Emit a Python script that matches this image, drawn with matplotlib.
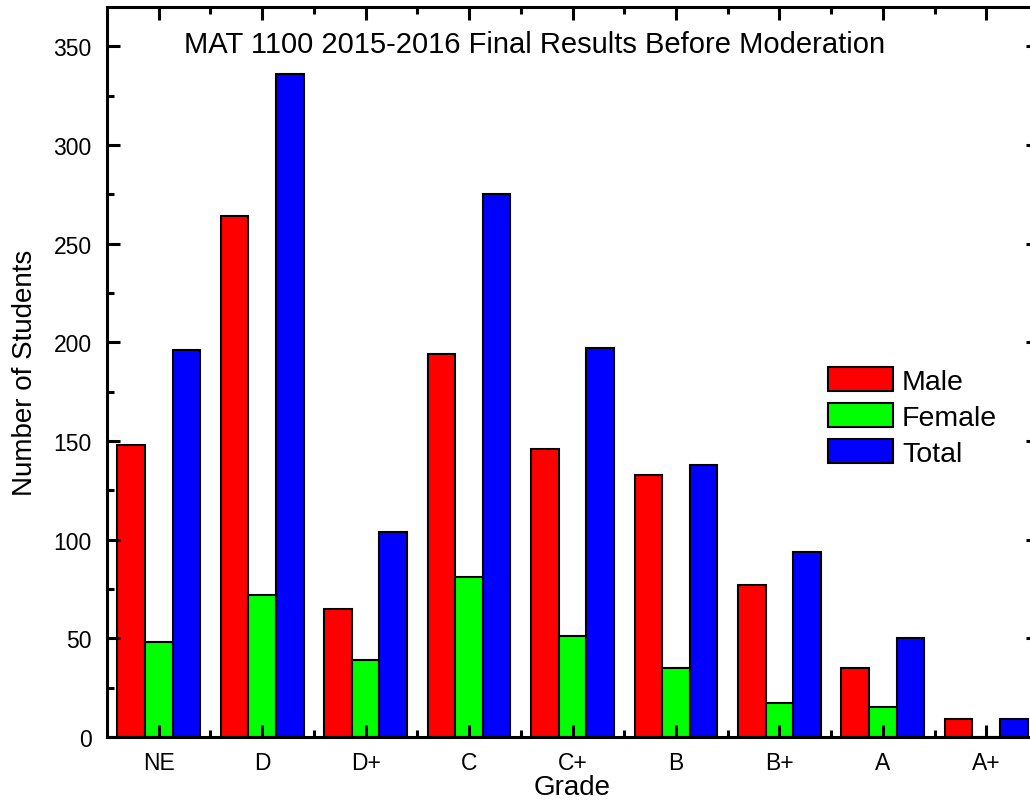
import matplotlib
matplotlib.use("Agg")
import matplotlib.pyplot as plt
import numpy as np
from matplotlib.ticker import MultipleLocator, FixedLocator

plt.rcParams['font.family'] = ['Liberation Sans', 'DejaVu Sans']

grades = ["NE", "D", "D+", "C", "C+", "B", "B+", "A", "A+"]
male = [148, 264, 65, 194, 146, 133, 77, 35, 9]
female = [48, 72, 39, 81, 51, 35, 17, 15, 0]
total = [196, 336, 104, 275, 197, 138, 94, 50, 9]
series_names = ["Male", "Female", "Total"]
series_colors = ["#FF0000", "#00FF00", "#0000FF"]

fig = plt.figure(figsize=(10.30, 8.04), dpi=100)
ax = fig.add_axes([107/1030, 1-738/804, (1038-107)/1030, (738-8)/804])

x = np.arange(len(grades))
w = 0.8/3
for k, (vals, name, col) in enumerate(zip([male, female, total], series_names, series_colors)):
    ax.bar(x + (k-1)*w, vals, width=w, color=col, edgecolor='black', linewidth=1.5, label=name)

ax.set_xlim(-0.5, len(grades)-0.5)
ax.set_ylim(0, 370)
ax.set_xticks(x)
ax.set_xticklabels(grades)
ax.xaxis.set_minor_locator(FixedLocator(x[:-1] + 0.5))
ax.yaxis.set_major_locator(MultipleLocator(50))
ax.yaxis.set_minor_locator(MultipleLocator(25))
ax.tick_params(which='both', direction='in', top=True, right=True, width=2.2)
ax.tick_params(which='major', length=9, labelsize=16.5, pad=11)
ax.tick_params(which='minor', length=5)
ax.tick_params(axis='x', which='major', pad=10)
for s in ax.spines.values():
    s.set_linewidth(2.2)

ax.set_xlabel("Grade", fontsize=20, labelpad=0)
ax.set_ylabel("Number of Students", fontsize=20, labelpad=11)

fig.text(535/1030, 1-45/804, "MAT 1100 2015-2016 Final Results Before Moderation",
         fontsize=21, ha='center', va='center')

ax.legend(loc='upper left', bbox_to_anchor=(828/1030, 1-368/804), bbox_transform=fig.transFigure,
          frameon=False, fontsize=20.5, handlelength=2.3, handleheight=0.9,
          handletextpad=0.3, labelspacing=0.3, borderaxespad=0, borderpad=0)

fig.savefig("out.png", dpi=100)
